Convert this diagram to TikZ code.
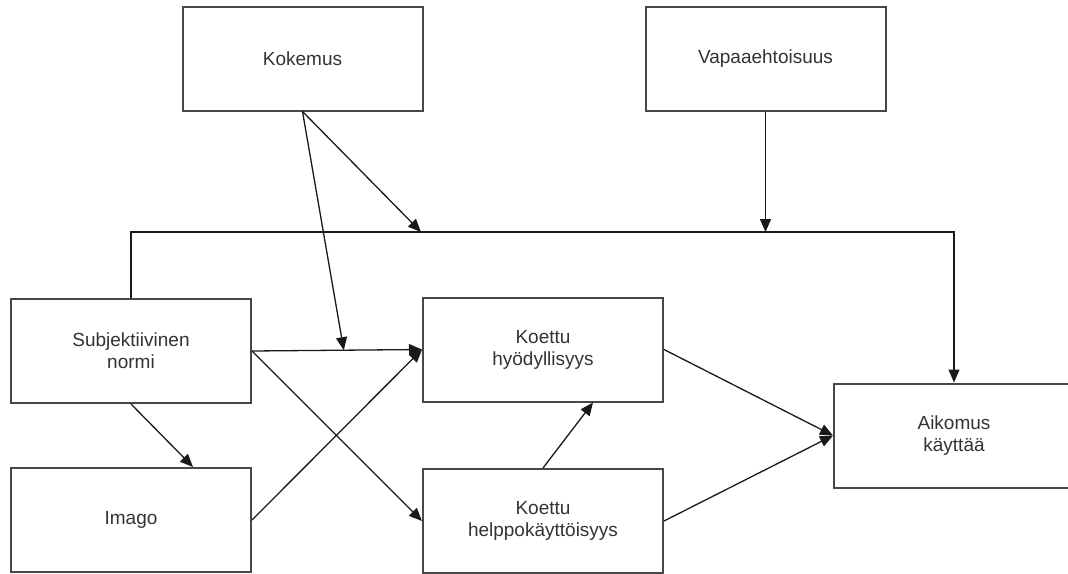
\documentclass[tikz,border=0pt]{standalone}
\usepackage{fontspec}
\setmainfont{Liberation Sans}
\usetikzlibrary{arrows.meta,calc}
\begin{document}
\begin{tikzpicture}[x=1pt,y=-1pt,
  box/.style={draw=black!72, line width=2pt, fill=white,
    minimum width=240pt, minimum height=104pt, inner sep=0pt,
    align=center, text=black!80, font=\fontsize{19}{22}\selectfont},
  conn/.style={line width=1.3pt, draw=black!90,
    -{Triangle[length=13pt,width=11pt]}},
]
\useasboundingbox (0,0) rectangle (1068,573);
\clip (0,0) rectangle (1068,573);

% factors
\node[box] (kok)    at (302.5,58.5) {Kokemus};
\node[box] (vap)    at (765.5,58.5) {Vapaaehtoisuus};
\node[box] (subj)   at (131,351)    {Subjektiivinen\\normi};
\node[box] (imago)  at (131,520)    {Imago};
\node[box] (hyod)   at (543,349.5)  {Koettu\\hyödyllisyys};
\node[box] (helppo) at (543,521)    {Koettu\\helppokäyttöisyys};
\node[box] (aik)    at (954,435.5)  {Aikomus\\käyttää};

% moderator bus from the subjective norm to the intention
\coordinate (busR)  at (954,232);
\coordinate (vapin) at (vap.south |- busR);
\coordinate (kokin) at (421,232);
\coordinate (kokmid) at ($(subj.east)!0.54!(hyod.west)$);
\coordinate (imtop)  at ($(imago.north)+(62,0)$);
\coordinate (hybot)  at ($(hyod.south)+(50,0)$);

\draw[conn] (subj.north) |- (busR) -- (aik.north);
\draw[conn] (vap.south) -- (vapin);
\draw[conn] (kok.south) -- (kokin);
\draw[conn] (kok.south) -- (kokmid);

% direct effects
\draw[conn] (subj.east) -- (hyod.west);
\draw[conn] (subj.east) -- (helppo.west);
\draw[conn] (subj.south) -- (imtop);
\draw[conn] (imago.east) -- (hyod.west);
\draw[conn] (helppo.north) -- (hybot);
\draw[conn] (hyod.east) -- (aik.west);
\draw[conn] (helppo.east) -- (aik.west);
\end{tikzpicture}
\end{document}
